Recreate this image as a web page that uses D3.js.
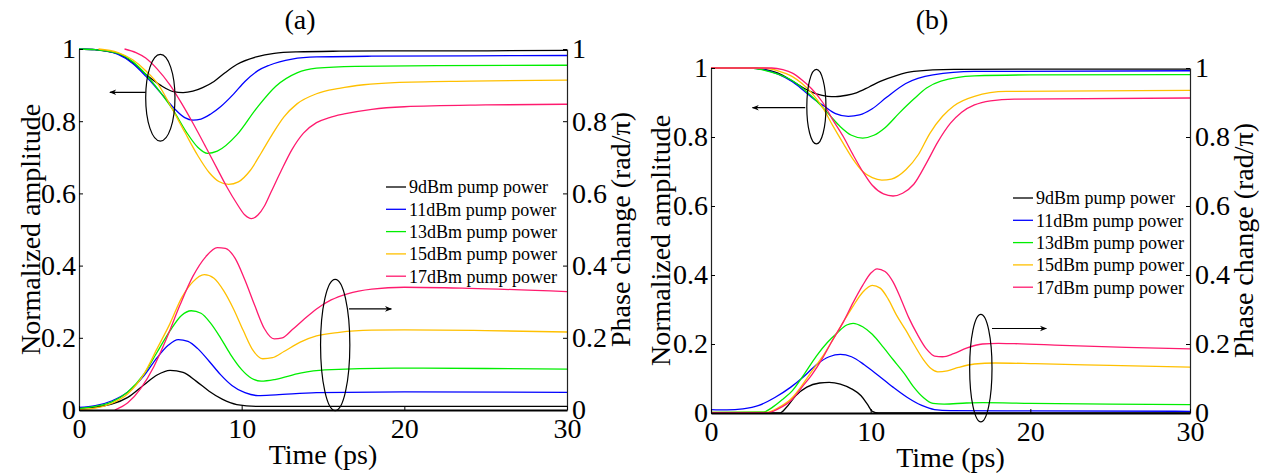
<!DOCTYPE html>
<html><head><meta charset="utf-8">
<script src="https://cdn.jsdelivr.net/npm/d3@7"></script>
<style>html,body{margin:0;padding:0;background:#fff;}svg{display:block;}</style></head>
<body>
<svg id="chart" width="1265" height="474"></svg>
<script>
// ---------- data ----------
const legendLabels = ["9dBm pump power","11dBm pump power","13dBm pump power","15dBm pump power","17dBm pump power"];
const seriesColors = ["#000000","#0000ff","#00ee00","#ffc000","#ff1a6e"];
const xTicks = [0,10,20,30];
const yTicks = [0,0.2,0.4,0.6,0.8,1];
const yTickLabels = ["0","0.2","0.4","0.6","0.8","1"];

// panel (a) : normalized amplitude [time ps, value]
const ampA9  = [[0,1],[1,0.998],[2.4,0.987],[3.3,0.962],[4.1,0.93],[5,0.9],[5.8,0.882],[6.4,0.879],[7,0.883],[7.6,0.893],[8.3,0.91],[9,0.935],[9.7,0.957],[10.9,0.978],[12,0.988],[13.4,0.992],[16,0.994],[20,0.995],[25,0.995],[30,0.996]];
const ampA11 = [[0,1],[1,0.998],[2.4,0.985],[3.3,0.96],[4.1,0.925],[5,0.88],[5.8,0.838],[6.5,0.81],[7,0.803],[7.5,0.806],[8.1,0.82],[8.7,0.84],[9.5,0.875],[10.2,0.91],[11,0.94],[11.7,0.955],[13.1,0.972],[14.6,0.978],[18,0.98],[24,0.981],[30,0.982]];
const ampA13 = [[0,1],[1,0.998],[2.4,0.988],[3.3,0.965],[4.1,0.93],[5,0.88],[5.8,0.83],[6.6,0.77],[7.3,0.728],[7.9,0.711],[8.5,0.717],[9.7,0.762],[10.9,0.835],[12.1,0.897],[13.4,0.934],[14.6,0.947],[17,0.952],[22,0.954],[30,0.955]];
const ampA15 = [[1.2,1],[2.4,0.99],[3.3,0.97],[4.1,0.94],[4.9,0.9],[5.6,0.845],[6.5,0.77],[7.3,0.705],[8,0.658],[8.6,0.633],[9.2,0.625],[9.8,0.632],[10.5,0.662],[11.2,0.712],[11.9,0.765],[12.6,0.812],[13.4,0.848],[14.6,0.876],[16,0.891],[17.5,0.901],[19.4,0.907],[24,0.911],[30,0.914]];
const ampA17 = [[2.8,1],[3.5,0.99],[4.1,0.975],[4.8,0.945],[5.6,0.9],[6.3,0.85],[7,0.795],[7.8,0.728],[8.5,0.668],[9.1,0.617],[9.7,0.572],[10.2,0.54],[10.6,0.53],[11,0.54],[11.4,0.565],[11.8,0.603],[12.4,0.66],[13.1,0.722],[13.8,0.767],[14.6,0.796],[15.4,0.81],[16.3,0.82],[18,0.833],[20,0.84],[25,0.845],[30,0.847]];
// panel (a) : phase change (rad/pi)
const phA9  = [[0,0.005],[1,0.008],[2,0.016],[3,0.035],[4,0.07],[4.8,0.097],[5.6,0.11],[6.4,0.104],[7.2,0.08],[8,0.052],[8.8,0.03],[9.7,0.015],[10.9,0.01],[15,0.01],[20,0.01],[30,0.01]];
const phA11 = [[0,0.007],[1,0.012],[2,0.025],[3,0.05],[4,0.095],[4.8,0.145],[5.5,0.18],[6.1,0.195],[6.7,0.19],[7.3,0.17],[8,0.135],[8.7,0.098],[9.4,0.068],[10.2,0.048],[11,0.04],[12.1,0.042],[14.6,0.048],[20,0.05],[30,0.049]];
const phA13 = [[0,0.004],[1,0.01],[2,0.022],[3,0.05],[4,0.1],[4.8,0.16],[5.6,0.22],[6.3,0.262],[6.9,0.275],[7.5,0.268],[8.1,0.24],[8.7,0.2],[9.3,0.155],[10,0.112],[10.6,0.088],[11.2,0.08],[12.1,0.085],[13.6,0.102],[15.1,0.111],[19.4,0.116],[25,0.115],[30,0.113]];
const phA15 = [[0,0.001],[1,0.005],[2,0.018],[3,0.045],[4,0.1],[4.8,0.17],[5.6,0.24],[6.3,0.31],[7,0.355],[7.7,0.375],[8.3,0.365],[8.9,0.33],[9.5,0.28],[10.1,0.22],[10.7,0.165],[11.3,0.142],[11.9,0.145],[12.6,0.162],[13.6,0.188],[14.6,0.205],[16,0.215],[18,0.221],[20,0.222],[25,0.22],[30,0.216]];
const phA17 = [[2.2,0],[3,0.02],[3.8,0.06],[4.6,0.12],[5.4,0.2],[6.2,0.29],[7,0.37],[7.8,0.425],[8.5,0.45],[9,0.448],[9.6,0.42],[10.2,0.36],[10.8,0.29],[11.4,0.225],[12,0.197],[12.5,0.2],[13.1,0.222],[13.8,0.25],[14.6,0.28],[15.5,0.305],[16.5,0.322],[18,0.335],[20,0.34],[24,0.337],[30,0.328]];

// panel (b) : normalized amplitude
const ampB9  = [[0,1],[2.5,1],[3.3,0.996],[4.2,0.985],[5.1,0.962],[5.8,0.942],[6.6,0.925],[7.3,0.918],[7.8,0.917],[8.5,0.921],[9.1,0.928],[9.9,0.945],[10.6,0.961],[11.6,0.978],[12.7,0.99],[15.2,0.996],[20,0.997],[30,0.997]];
const ampB11 = [[0,1],[2.5,1],[3.3,0.995],[4.2,0.982],[5.1,0.96],[5.8,0.935],[6.5,0.908],[7.1,0.889],[7.8,0.868],[8.6,0.86],[9.3,0.864],[10.1,0.882],[11,0.915],[12.2,0.955],[13.9,0.98],[16.5,0.99],[30,0.992]];
const ampB13 = [[0,1],[2.5,1],[3.3,0.994],[4.2,0.982],[5.1,0.963],[5.9,0.935],[6.6,0.905],[7.4,0.865],[8.1,0.83],[8.8,0.805],[9.5,0.797],[10.2,0.805],[10.9,0.827],[11.8,0.87],[12.7,0.91],[13.5,0.942],[14.4,0.962],[16.5,0.977],[20,0.98],[30,0.981]];
const ampB15 = [[0,1],[3.3,1],[4.2,0.992],[5.1,0.975],[5.7,0.955],[6.3,0.928],[7,0.885],[7.6,0.835],[8.3,0.78],[8.9,0.735],[9.5,0.7],[10.1,0.682],[10.7,0.675],[11.3,0.678],[12.2,0.705],[13,0.75],[13.7,0.81],[14.5,0.86],[15.2,0.89],[16.5,0.918],[18.5,0.932],[30,0.935]];
const ampB17 = [[0,1],[3.8,1],[4.5,0.995],[5.1,0.985],[5.7,0.965],[6.3,0.94],[7,0.9],[7.6,0.852],[8.3,0.8],[8.9,0.748],[9.5,0.7],[10.1,0.66],[10.8,0.635],[11.4,0.629],[12,0.637],[12.7,0.663],[13.5,0.725],[14.2,0.785],[15,0.84],[15.7,0.872],[16.5,0.893],[17.5,0.905],[19,0.91],[30,0.913]];
// panel (b) : phase change (rad/pi)
const phB9  = [[0,0],[4.3,0],[4.7,0.015],[5.3,0.05],[6,0.075],[6.8,0.087],[7.4,0.089],[8.1,0.084],[8.8,0.07],[9.4,0.05],[9.8,0.025],[10.1,0.005],[10.5,0],[30,0]];
const phB11 = [[0,0.01],[1,0.009],[2,0.012],[3,0.022],[4,0.045],[5,0.075],[5.8,0.105],[6.6,0.14],[7.4,0.163],[8.1,0.17],[8.8,0.163],[9.6,0.14],[10.5,0.108],[11.4,0.075],[12.3,0.045],[13.2,0.022],[14,0.01],[15,0.007],[20,0.006],[30,0.005]];
const phB13 = [[0,0.002],[3.3,0.003],[3.8,0.015],[4.5,0.04],[5.1,0.065],[5.8,0.11],[6.6,0.165],[7.3,0.205],[7.9,0.232],[8.5,0.255],[8.9,0.26],[9.5,0.25],[10.1,0.228],[10.8,0.19],[11.4,0.155],[12.1,0.115],[12.7,0.075],[13.3,0.045],[13.9,0.028],[14.6,0.026],[16,0.029],[17,0.03],[20,0.028],[25,0.026],[30,0.024]];
const phB15 = [[0,0.002],[3.5,0.002],[4.2,0.015],[5.1,0.045],[5.7,0.08],[6.3,0.12],[7,0.165],[7.6,0.21],[8.3,0.265],[8.9,0.31],[9.5,0.35],[10.1,0.37],[10.6,0.362],[11.1,0.33],[11.6,0.285],[12.2,0.24],[12.7,0.2],[13.3,0.155],[13.8,0.128],[14.2,0.119],[14.8,0.122],[15.5,0.132],[16.5,0.142],[17.8,0.145],[20.3,0.143],[25,0.138],[30,0.133]];
const phB17 = [[0,0.001],[3.6,0.001],[4.2,0.012],[5.1,0.04],[5.7,0.075],[6.3,0.11],[7,0.16],[7.6,0.21],[8.3,0.265],[8.9,0.32],[9.5,0.37],[10,0.405],[10.4,0.418],[10.9,0.41],[11.4,0.38],[11.9,0.33],[12.4,0.275],[12.9,0.23],[13.5,0.185],[14,0.165],[14.5,0.163],[15.2,0.172],[16,0.188],[17,0.2],[18,0.202],[19,0.201],[22,0.196],[26,0.19],[30,0.186]];

// annotation ellipses / arrows in data units: [cx, cy, rx(t), ry(value)]
const ellipseAmpA = [5.0, 0.865, 0.9, 0.12];
const ellipsePhA  = [15.75, 0.18, 0.9, 0.182];
const arrowAmpA   = [[4.1, 0.88],[1.9, 0.88]];
const arrowPhA    = [[16.6, 0.28],[19.2, 0.28]];
const ellipseAmpB = [6.6, 0.888, 0.6, 0.108];
const ellipsePhB  = [16.9, 0.13, 0.7, 0.156];
const arrowAmpB   = [[5.9, 0.885],[2.6, 0.885]];
const arrowPhB    = [[17.6, 0.245],[21.0, 0.245]];

const panels = [
  {id:"a", title:"(a)", x0:79, x1:567, y0:410, y1:49, titleX:300,
   amp:[ampA9,ampA11,ampA13,ampA15,ampA17], ph:[phA9,phA11,phA13,phA15,phA17],
   ell:[ellipseAmpA, ellipsePhA], arr:[arrowAmpA, arrowPhA],
   legX:386, legY:187, legDy:22.3, lTitleX:30, rTitleX:620, timeY:464},
  {id:"b", title:"(b)", x0:711, x1:1190, y0:413, y1:68, titleX:932,
   amp:[ampB9,ampB11,ampB13,ampB15,ampB17], ph:[phB9,phB11,phB13,phB15,phB17],
   ell:[ellipseAmpB, ellipsePhB], arr:[arrowAmpB, arrowPhB],
   legX:1013, legY:198, legDy:22.3, lTitleX:660, rTitleX:1243, timeY:467}
];

const FONT = '"Liberation Serif"';
const BIG = "28px";
const svg = d3.select("#chart");
const defs = svg.append("defs");
defs.append("marker").attr("id","arrowhead").attr("viewBox","0 0 10 10")
  .attr("refX",9).attr("refY",5).attr("markerWidth",9).attr("markerHeight",7)
  .attr("markerUnits","userSpaceOnUse").attr("orient","auto")
  .append("path").attr("d","M0,1 L10,5 L0,9 L3,5 Z").attr("fill","#000");

panels.forEach(p => {
  const x = d3.scaleLinear().domain([0,30]).range([p.x0,p.x1]);
  const y = d3.scaleLinear().domain([0,1]).range([p.y0,p.y1]);
  const g = svg.append("g");
  defs.append("clipPath").attr("id","clip"+p.id).append("rect")
    .attr("x",p.x0).attr("y",p.y1-6).attr("width",p.x1-p.x0).attr("height",p.y0-p.y1+6);

  const line = d3.line().x(d=>x(d[0])).y(d=>y(d[1])).curve(d3.curveMonotoneX);
  const curves = g.append("g").attr("clip-path","url(#clip"+p.id+")");
  [p.amp, p.ph].forEach(set => set.forEach((s,i) => {
    curves.append("path").attr("d",line(s)).attr("fill","none")
      .attr("stroke",seriesColors[i]).attr("stroke-width",1.3);
  }));

  // axes
  const left = g.append("g").attr("transform",`translate(${p.x0},0)`)
    .call(d3.axisLeft(y).tickValues(yTicks).tickFormat((d,i)=>yTickLabels[i]).tickSize(-4).tickSizeOuter(0).tickPadding(3));
  const right = g.append("g").attr("transform",`translate(${p.x1},0)`)
    .call(d3.axisRight(y).tickValues(yTicks).tickFormat((d,i)=>yTickLabels[i]).tickSize(-4).tickSizeOuter(0).tickPadding(5));
  const bottom = g.append("g").attr("transform",`translate(0,${p.y0})`)
    .call(d3.axisBottom(x).tickValues(xTicks).tickFormat(d3.format("d")).tickSize(-4).tickSizeOuter(0).tickPadding(8));
  [left,right,bottom].forEach(a => {
    a.attr("font-family",null).attr("font-size",null);
    a.selectAll("text").attr("fill","#000").style("font-family",FONT).style("font-size",BIG);
    a.selectAll("line").attr("stroke","#000");
    a.select(".domain").attr("stroke","#222").attr("stroke-width",1.2);
  });
  bottom.select(".domain").attr("stroke","#000").attr("stroke-width",2.2);

  // titles
  const T = (sel, size) => sel.attr("fill","#000").style("font-family",FONT).style("font-size",size);
  T(g.append("text"),BIG).attr("x",p.titleX).attr("y",29).attr("text-anchor","middle").text(p.title);
  T(g.append("text"),BIG).attr("x",(p.x0+p.x1)/2).attr("y",p.timeY).attr("text-anchor","middle").text("Time (ps)");
  const midY = (p.y0+p.y1)/2;
  T(g.append("text"),BIG).attr("transform",`translate(${p.lTitleX},${midY}) rotate(-90)`)
    .attr("dy","0.35em").attr("text-anchor","middle").text("Normalized amplitude");
  T(g.append("text"),BIG).attr("transform",`translate(${p.rTitleX},${midY}) rotate(-90)`)
    .attr("dy","0.35em").attr("text-anchor","middle").text("Phase change (rad/π)");

  // ellipses and arrows
  p.ell.forEach(e => {
    g.append("ellipse").attr("cx",x(e[0])).attr("cy",y(e[1]))
      .attr("rx",x(e[2])-x(0)).attr("ry",y(0)-y(e[3]))
      .attr("fill","none").attr("stroke","#000").attr("stroke-width",1.2);
  });
  p.arr.forEach(a => {
    g.append("line").attr("x1",x(a[0][0])).attr("y1",y(a[0][1]))
      .attr("x2",x(a[1][0])).attr("y2",y(a[1][1]))
      .attr("stroke","#000").attr("stroke-width",1.2).attr("marker-end","url(#arrowhead)");
  });

  // legend
  const leg = g.append("g");
  legendLabels.forEach((lab,i) => {
    const yy = p.legY + i*p.legDy;
    leg.append("line").attr("x1",p.legX).attr("x2",p.legX+20).attr("y1",yy).attr("y2",yy)
      .attr("stroke",seriesColors[i]).attr("stroke-width",1.3);
    T(leg.append("text"),"18px").attr("x",p.legX+23).attr("y",yy).attr("dy","0.35em").text(lab);
  });
});
</script>
</body></html>
